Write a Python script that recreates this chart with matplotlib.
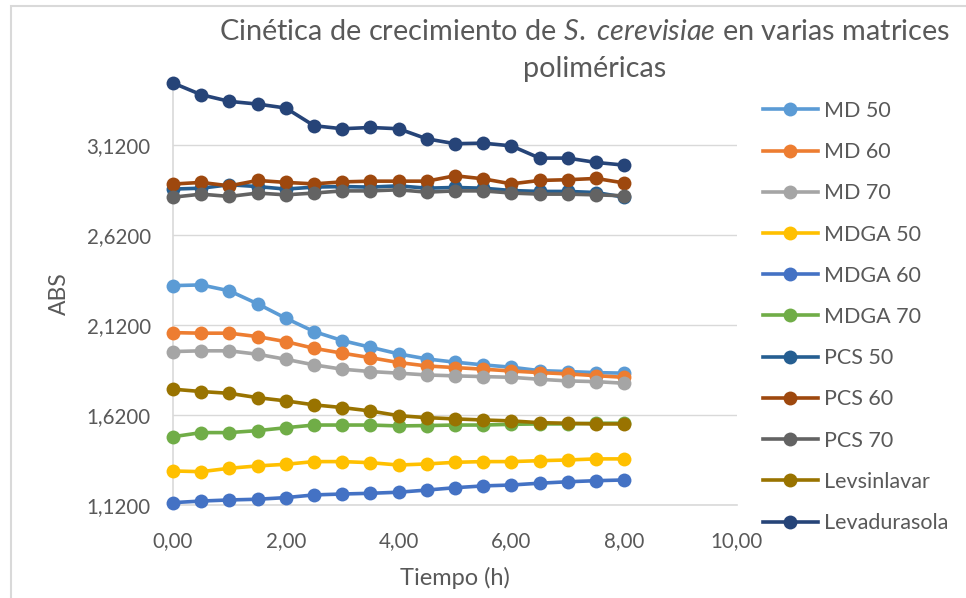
import matplotlib
matplotlib.use("Agg")
import matplotlib.pyplot as plt
from matplotlib.ticker import FuncFormatter
from matplotlib.patches import Rectangle

plt.rcParams['font.family'] = ['Lato', 'DejaVu Sans']
plt.rcParams['mathtext.fontset'] = 'custom'
plt.rcParams['mathtext.rm'] = 'Lato'
plt.rcParams['mathtext.it'] = 'Lato:italic'

time_h = [0.0, 0.5, 1.0, 1.5, 2.0, 2.5, 3.0, 3.5, 4.0, 4.5, 5.0, 5.5, 6.0, 6.5, 7.0, 7.5, 8.0]

md_50 = [2.338, 2.342, 2.309, 2.237, 2.157, 2.083, 2.033, 1.996, 1.959, 1.931, 1.913, 1.898, 1.885, 1.866, 1.861, 1.855, 1.852]
md_60 = [2.077, 2.074, 2.074, 2.055, 2.027, 1.990, 1.963, 1.938, 1.911, 1.892, 1.883, 1.874, 1.864, 1.855, 1.848, 1.838, 1.829]
md_70 = [1.972, 1.976, 1.976, 1.957, 1.929, 1.898, 1.874, 1.861, 1.852, 1.842, 1.837, 1.833, 1.829, 1.818, 1.809, 1.805, 1.796]
mdga_50 = [1.309, 1.305, 1.324, 1.337, 1.346, 1.361, 1.361, 1.355, 1.342, 1.348, 1.357, 1.361, 1.361, 1.366, 1.370, 1.376, 1.376]
mdga_60 = [1.133, 1.142, 1.148, 1.152, 1.161, 1.176, 1.181, 1.185, 1.191, 1.203, 1.216, 1.226, 1.231, 1.241, 1.249, 1.255, 1.259]
mdga_70 = [1.499, 1.522, 1.522, 1.533, 1.549, 1.564, 1.564, 1.564, 1.559, 1.561, 1.564, 1.564, 1.568, 1.570, 1.570, 1.574, 1.574]
pcs_50 = [2.874, 2.879, 2.898, 2.888, 2.874, 2.885, 2.888, 2.885, 2.892, 2.879, 2.883, 2.879, 2.866, 2.861, 2.861, 2.855, 2.829]
pcs_60 = [2.902, 2.911, 2.892, 2.922, 2.911, 2.903, 2.914, 2.918, 2.918, 2.918, 2.948, 2.931, 2.903, 2.922, 2.926, 2.933, 2.908]
pcs_70 = [2.829, 2.846, 2.833, 2.852, 2.842, 2.852, 2.864, 2.864, 2.870, 2.857, 2.864, 2.864, 2.852, 2.846, 2.846, 2.842, 2.837]
levsinlavar = [1.763, 1.750, 1.740, 1.716, 1.698, 1.676, 1.661, 1.642, 1.616, 1.605, 1.598, 1.592, 1.587, 1.577, 1.574, 1.570, 1.570]
levadurasola = [3.463, 3.398, 3.361, 3.346, 3.324, 3.226, 3.209, 3.216, 3.209, 3.153, 3.126, 3.129, 3.114, 3.046, 3.046, 3.022, 3.007]

series_names = ["MD 50", "MD 60", "MD 70", "MDGA 50", "MDGA 60", "MDGA 70",
                "PCS 50", "PCS 60", "PCS 70", "Levsinlavar", "Levadurasola"]
series_values = [md_50, md_60, md_70, mdga_50, mdga_60, mdga_70,
                 pcs_50, pcs_60, pcs_70, levsinlavar, levadurasola]
colors = ["#5B9BD5", "#ED7D31", "#A5A5A5", "#FFC000", "#4472C4", "#70AD47",
          "#255E91", "#9E480E", "#636363", "#997300", "#264478"]

y_ticks = [1.12, 1.62, 2.12, 2.62, 3.12]
x_ticks = [0, 2, 4, 6, 8, 10]

W, H = 966, 598
fig = plt.figure(figsize=(W / 100, H / 100), dpi=100)

# chart area border
fig.patches.append(Rectangle((11 / W, -0.05), 1.2, 1 - 6 / H + 0.05, transform=fig.transFigure,
                             fill=False, edgecolor="#d9d9d9", linewidth=1.5))

ax = fig.add_axes([173 / W, 1 - 505 / H, (737 - 173) / W, (505 - 83) / H])

for name, vals, c in zip(series_names, series_values, colors):
    ax.plot(time_h, vals, color=c, linewidth=2.6, marker='o', markersize=10,
            markeredgewidth=0, label=name, clip_on=False, zorder=3)

ax.set_xlim(0, 10)
ax.set_ylim(1.12, 3.463)
ax.set_xticks(x_ticks)
ax.set_yticks(y_ticks)
ax.xaxis.set_major_formatter(FuncFormatter(lambda v, p: f"{v:.2f}".replace('.', ',')))
ax.yaxis.set_major_formatter(FuncFormatter(lambda v, p: f"{v:.4f}".replace('.', ',')))
ax.grid(axis='y', color="#d9d9d9", linewidth=1.0, zorder=0)
ax.set_axisbelow(True)
for s in ['top', 'right']:
    ax.spines[s].set_visible(False)
for s in ['left', 'bottom']:
    ax.spines[s].set_color("#d9d9d9")
    ax.spines[s].set_linewidth(1.2)
ax.tick_params(axis='both', length=0, labelsize=14.8, labelcolor="#595959")
ax.tick_params(axis='x', pad=19)
ax.tick_params(axis='y', pad=16)

ax.set_xlabel("Tiempo (h)", fontsize=17, color="#595959", labelpad=11)
ax.set_ylabel("ABS", fontsize=16.5, color="#595959", labelpad=12)

fig.text(585 / W, 1 - 40 / H,
         "Cinética de crecimiento de $\\mathit{S.}$ $\\mathit{cerevisiae}$ en varias matrices",
         ha='center', va='baseline', fontsize=20.8, color="#595959")
fig.text(595 / W, 1 - 77 / H, "poliméricas",
         ha='center', va='baseline', fontsize=20.8, color="#595959")

leg = ax.legend(loc='upper left', bbox_to_anchor=(763 / W, 1 - 101 / H),
                bbox_transform=fig.transFigure, frameon=False, fontsize=15.5,
                handlelength=2.55, handletextpad=0.28, labelspacing=0.985,
                borderpad=0, borderaxespad=0)
for t in leg.get_texts():
    t.set_color("#595959")

fig.savefig("out.png", dpi=100)
